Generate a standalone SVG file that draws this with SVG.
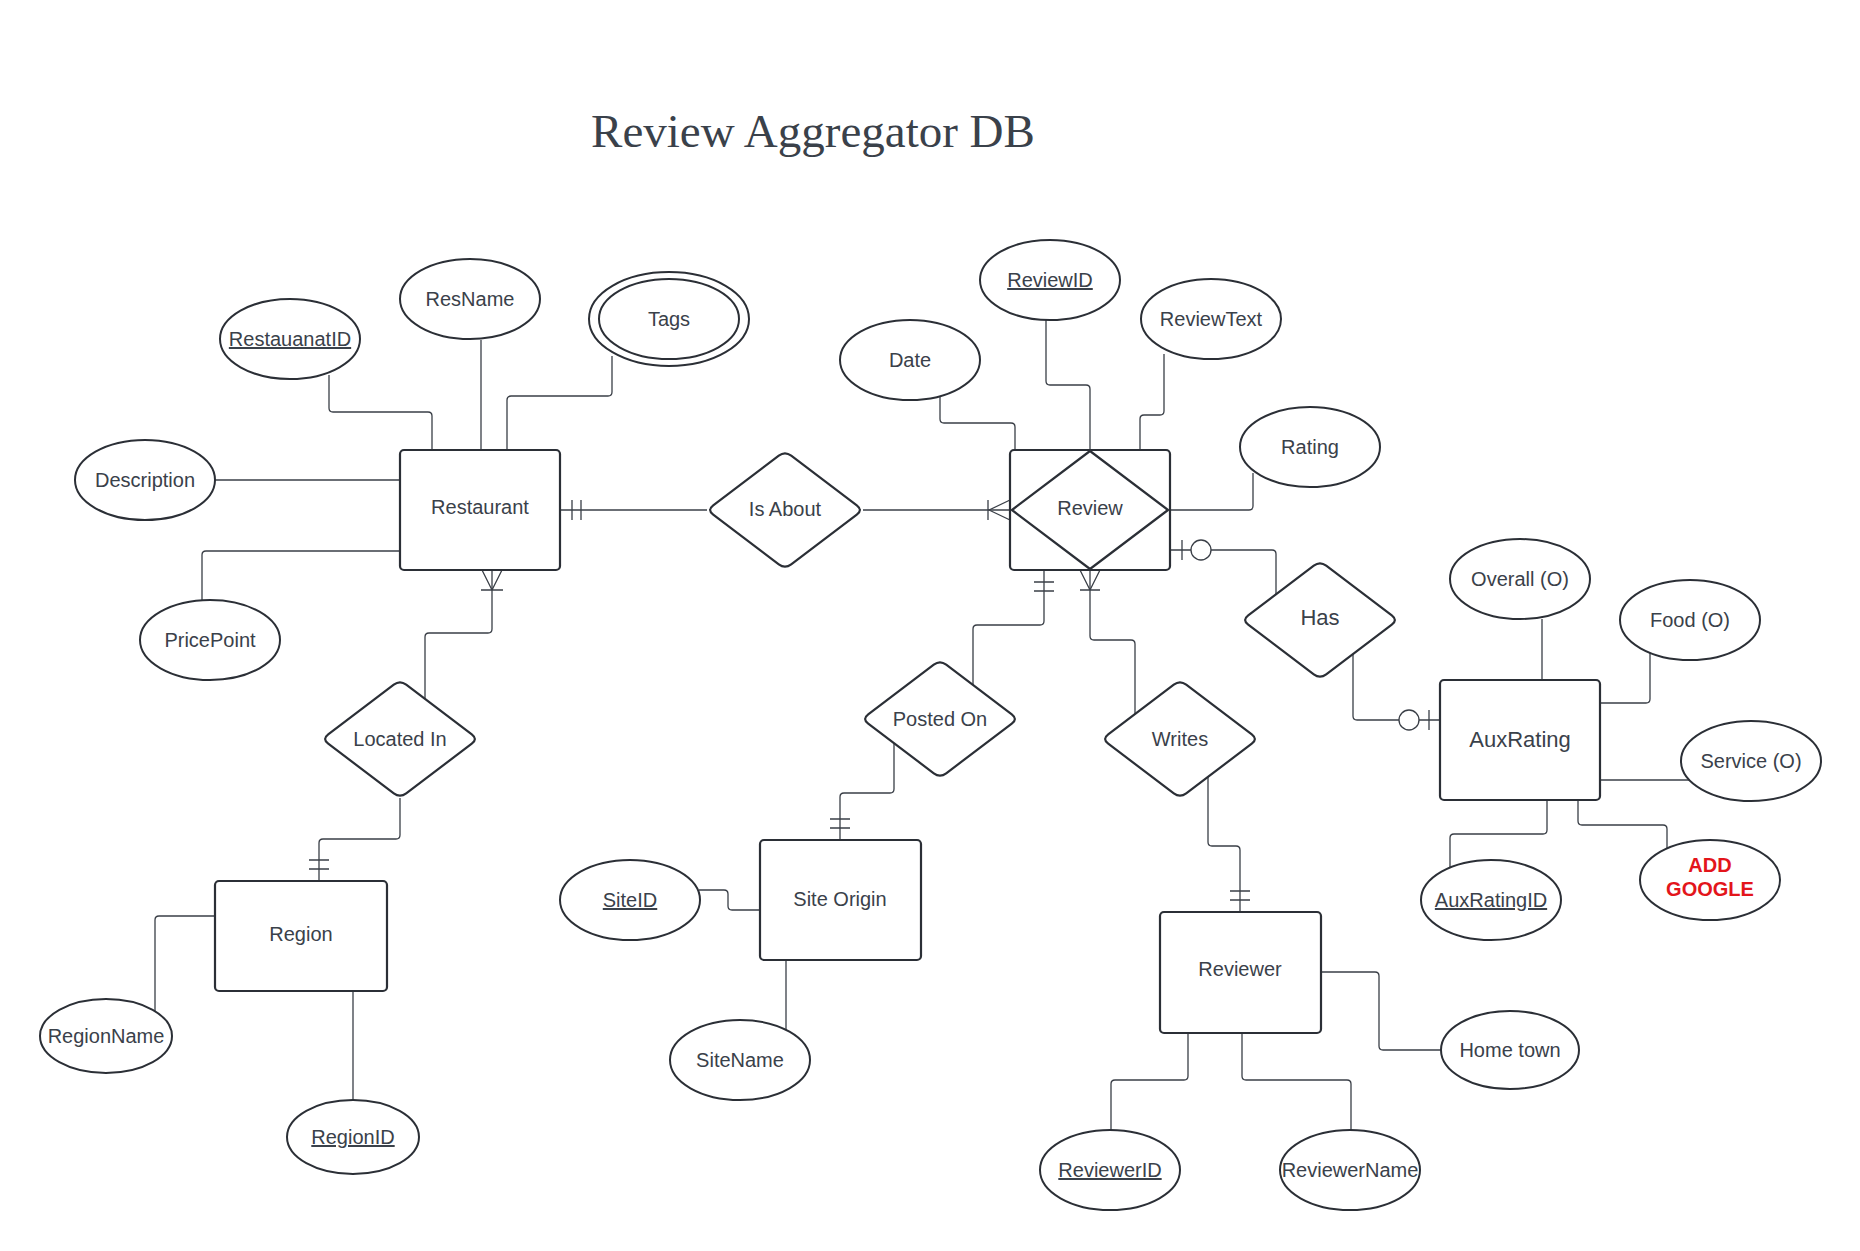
<svg xmlns="http://www.w3.org/2000/svg" width="1860" height="1251" viewBox="0 0 1860 1251">
<style>
.ent{fill:#fff;stroke:#2b2f36;stroke-width:2.2}
.rel{fill:#fff;stroke:#2b2f36;stroke-width:2.2;stroke-linejoin:round}
.att{fill:#fff;stroke:#2b2f36;stroke-width:2}
.lbl{font-family:"Liberation Sans",Arial,sans-serif;font-size:20px;fill:#3a414a;text-anchor:middle}
.big{font-size:22px}
.key{text-decoration:underline}
.red{fill:#e3151b;font-weight:bold}
.ln{fill:none;stroke:#3a3f47;stroke-width:1.3;stroke-linejoin:round}
.cir{fill:#fff;stroke:#3a3f47;stroke-width:1.3}
.title{font-family:"Liberation Serif","Times New Roman",serif;font-size:47px;fill:#3a414a;text-anchor:middle}
</style>
<rect width="1860" height="1251" fill="#fff"/>
<text class="title" x="813" y="147">Review Aggregator DB</text>

<g id="connectors">
  <path class="ln" d="M329,375 V408 Q329,412 333,412 H428 Q432,412 432,416 V450"/>
  <path class="ln" d="M481,340 V450"/>
  <path class="ln" d="M612,356 V392 Q612,396 608,396 H511 Q507,396 507,400 V450"/>
  <path class="ln" d="M215,480 H400"/>
  <path class="ln" d="M202,600 V555 Q202,551 206,551 H400"/>
  <path class="ln" d="M560,510 H707"/>
  <path class="ln" d="M572,500 V520 M581,500 V520"/>
  <path class="ln" d="M863,510 H1010"/>
  <path class="ln" d="M988,500 V520 M1010,500 L989,510 L1010,520"/>
  <path class="ln" d="M492,570 V629 Q492,633 488,633 H429 Q425,633 425,637 V699"/>
  <path class="ln" d="M482,570 L492,590 L502,570 M481,590 H503"/>
  <path class="ln" d="M400,798 V835 Q400,839 396,839 H323 Q319,839 319,843 V881"/>
  <path class="ln" d="M309,860 H329 M309,869 H329"/>
  <path class="ln" d="M155,1011 V920 Q155,916 159,916 H215"/>
  <path class="ln" d="M353,991 V1100"/>
  <path class="ln" d="M940,395 V419 Q940,423 944,423 H1011 Q1015,423 1015,427 V450"/>
  <path class="ln" d="M1046,319 V381 Q1046,385 1050,385 H1086 Q1090,385 1090,389 V450"/>
  <path class="ln" d="M1164,354 V411 Q1164,415 1160,415 H1144 Q1140,415 1140,419 V450"/>
  <path class="ln" d="M1253,473 V506 Q1253,510 1249,510 H1170"/>
  <path class="ln" d="M1170,550 H1272 Q1276,550 1276,554 V595"/>
  <path class="ln" d="M1182,540 V560"/>
  <circle class="cir" cx="1201" cy="550" r="10"/>
  <path class="ln" d="M1353,654 V716 Q1353,720 1357,720 H1440"/>
  <path class="ln" d="M1429,710 V730"/>
  <circle class="cir" cx="1409" cy="720" r="10"/>
  <path class="ln" d="M1044,570 V621 Q1044,625 1040,625 H977 Q973,625 973,629 V685"/>
  <path class="ln" d="M1034,582 H1054 M1034,591 H1054"/>
  <path class="ln" d="M894,743 V789 Q894,793 890,793 H844 Q840,793 840,797 V840"/>
  <path class="ln" d="M830,819 H850 M830,828 H850"/>
  <path class="ln" d="M1090,570 V636 Q1090,640 1094,640 H1131 Q1135,640 1135,644 V714"/>
  <path class="ln" d="M1080,570 L1090,590 L1100,570 M1080,590 H1100"/>
  <path class="ln" d="M1208,776 V842 Q1208,846 1212,846 H1236 Q1240,846 1240,850 V912"/>
  <path class="ln" d="M1230,891 H1250 M1230,900 H1250"/>
  <path class="ln" d="M699,890 H724 Q728,890 728,894 V906 Q728,910 732,910 H760"/>
  <path class="ln" d="M786,960 V1030"/>
  <path class="ln" d="M1321,972 H1375 Q1379,972 1379,976 V1046 Q1379,1050 1383,1050 H1441"/>
  <path class="ln" d="M1188,1033 V1076 Q1188,1080 1184,1080 H1115 Q1111,1080 1111,1084 V1130"/>
  <path class="ln" d="M1242,1033 V1076 Q1242,1080 1246,1080 H1347 Q1351,1080 1351,1084 V1130"/>
  <path class="ln" d="M1542,619 V680"/>
  <path class="ln" d="M1650,653 V699 Q1650,703 1646,703 H1600"/>
  <path class="ln" d="M1689,780 H1600"/>
  <path class="ln" d="M1547,799 V830 Q1547,834 1543,834 H1454 Q1450,834 1450,838 V868"/>
  <path class="ln" d="M1578,799 V821 Q1578,825 1582,825 H1663 Q1667,825 1667,829 V848"/>
</g>

<g id="restaurant"><rect class="ent" x="400" y="450" width="160" height="120" rx="4"/><text class="lbl" x="480" y="514">Restaurant</text></g>
<g id="review"><rect class="ent" x="1010" y="450" width="160" height="120" rx="4"/><path class="rel" d="M1090,451 L1168,510 L1090,569 L1012,510 Z"/><text class="lbl" x="1090" y="515">Review</text></g>
<g id="auxrating"><rect class="ent" x="1440" y="680" width="160" height="120" rx="4"/><text class="lbl big" x="1520" y="747">AuxRating</text></g>
<g id="region"><rect class="ent" x="215" y="881" width="172" height="110" rx="4"/><text class="lbl" x="301" y="941">Region</text></g>
<g id="siteorigin"><rect class="ent" x="760" y="840" width="161" height="120" rx="4"/><text class="lbl" x="840" y="906">Site Origin</text></g>
<g id="reviewer"><rect class="ent" x="1160" y="912" width="161" height="121" rx="4"/><text class="lbl" x="1240" y="976">Reviewer</text></g>

<g id="isabout"><path class="rel" d="M791.2,455.7 l65.6,49.6 q6.2,4.7 0,9.4 l-65.6,49.6 q-6.2,4.7 -12.4,0 l-65.6,-49.6 q-6.2,-4.7 0,-9.4 l65.6,-49.6 q6.2,-4.7 12.4,0 z"/><text class="lbl" x="785" y="516">Is About</text></g>
<g id="locatedin"><path class="rel" d="M406.2,684.7 l65.6,49.6 q6.2,4.7 0,9.4 l-65.6,49.6 q-6.2,4.7 -12.4,0 l-65.6,-49.6 q-6.2,-4.7 0,-9.4 l65.6,-49.6 q6.2,-4.7 12.4,0 z"/><text class="lbl" x="400" y="746">Located In</text></g>
<g id="postedon"><path class="rel" d="M946.2,664.7 l65.6,49.6 q6.2,4.7 0,9.4 l-65.6,49.6 q-6.2,4.7 -12.4,0 l-65.6,-49.6 q-6.2,-4.7 0,-9.4 l65.6,-49.6 q6.2,-4.7 12.4,0 z"/><text class="lbl" x="940" y="726">Posted On</text></g>
<g id="writes"><path class="rel" d="M1186.2,684.7 l65.6,49.6 q6.2,4.7 0,9.4 l-65.6,49.6 q-6.2,4.7 -12.4,0 l-65.6,-49.6 q-6.2,-4.7 0,-9.4 l65.6,-49.6 q6.2,-4.7 12.4,0 z"/><text class="lbl" x="1180" y="746">Writes</text></g>
<g id="has"><path class="rel" d="M1326.2,565.7 l65.6,49.6 q6.2,4.7 0,9.4 l-65.6,49.6 q-6.2,4.7 -12.4,0 l-65.6,-49.6 q-6.2,-4.7 0,-9.4 l65.6,-49.6 q6.2,-4.7 12.4,0 z"/><text class="lbl big" x="1320" y="625">Has</text></g>

<g id="restauanatid"><ellipse class="att" cx="290" cy="339" rx="70" ry="40"/><text class="lbl key" x="290" y="346">RestauanatID</text></g>
<g id="resname"><ellipse class="att" cx="470" cy="299" rx="70" ry="40"/><text class="lbl" x="470" y="306">ResName</text></g>
<g id="tags"><ellipse class="att" cx="669" cy="319" rx="80" ry="47"/><ellipse class="att" cx="669" cy="319" rx="70" ry="40"/><text class="lbl" x="669" y="326">Tags</text></g>
<g id="description"><ellipse class="att" cx="145" cy="480" rx="70" ry="40"/><text class="lbl" x="145" y="487">Description</text></g>
<g id="pricepoint"><ellipse class="att" cx="210" cy="640" rx="70" ry="40"/><text class="lbl" x="210" y="647">PricePoint</text></g>
<g id="reviewid"><ellipse class="att" cx="1050" cy="280" rx="70" ry="40"/><text class="lbl key" x="1050" y="287">ReviewID</text></g>
<g id="date"><ellipse class="att" cx="910" cy="360" rx="70" ry="40"/><text class="lbl" x="910" y="367">Date</text></g>
<g id="reviewtext"><ellipse class="att" cx="1211" cy="319" rx="70" ry="40"/><text class="lbl" x="1211" y="326">ReviewText</text></g>
<g id="rating"><ellipse class="att" cx="1310" cy="447" rx="70" ry="40"/><text class="lbl" x="1310" y="454">Rating</text></g>
<g id="overall"><ellipse class="att" cx="1520" cy="579" rx="70" ry="40"/><text class="lbl" x="1520" y="586">Overall (O)</text></g>
<g id="food"><ellipse class="att" cx="1690" cy="620" rx="70" ry="40"/><text class="lbl" x="1690" y="627">Food (O)</text></g>
<g id="service"><ellipse class="att" cx="1751" cy="761" rx="70" ry="40"/><text class="lbl" x="1751" y="768">Service (O)</text></g>
<g id="auxratingid"><ellipse class="att" cx="1491" cy="900" rx="70" ry="40"/><text class="lbl key" x="1491" y="907">AuxRatingID</text></g>
<g id="addgoogle"><ellipse class="att" cx="1710" cy="880" rx="70" ry="40"/><text class="lbl red" x="1710" y="872">ADD</text><text class="lbl red" x="1710" y="896">GOOGLE</text></g>
<g id="siteid"><ellipse class="att" cx="630" cy="900" rx="70" ry="40"/><text class="lbl key" x="630" y="907">SiteID</text></g>
<g id="sitename"><ellipse class="att" cx="740" cy="1060" rx="70" ry="40"/><text class="lbl" x="740" y="1067">SiteName</text></g>
<g id="regionname"><ellipse class="att" cx="106" cy="1036" rx="66" ry="37"/><text class="lbl" x="106" y="1043">RegionName</text></g>
<g id="regionid"><ellipse class="att" cx="353" cy="1137" rx="66" ry="37"/><text class="lbl key" x="353" y="1144">RegionID</text></g>
<g id="hometown"><ellipse class="att" cx="1510" cy="1050" rx="69" ry="39"/><text class="lbl" x="1510" y="1057">Home town</text></g>
<g id="reviewerid"><ellipse class="att" cx="1110" cy="1170" rx="70" ry="40"/><text class="lbl key" x="1110" y="1177">ReviewerID</text></g>
<g id="reviewername"><ellipse class="att" cx="1350" cy="1170" rx="70" ry="40"/><text class="lbl" x="1350" y="1177">ReviewerName</text></g>
</svg>
